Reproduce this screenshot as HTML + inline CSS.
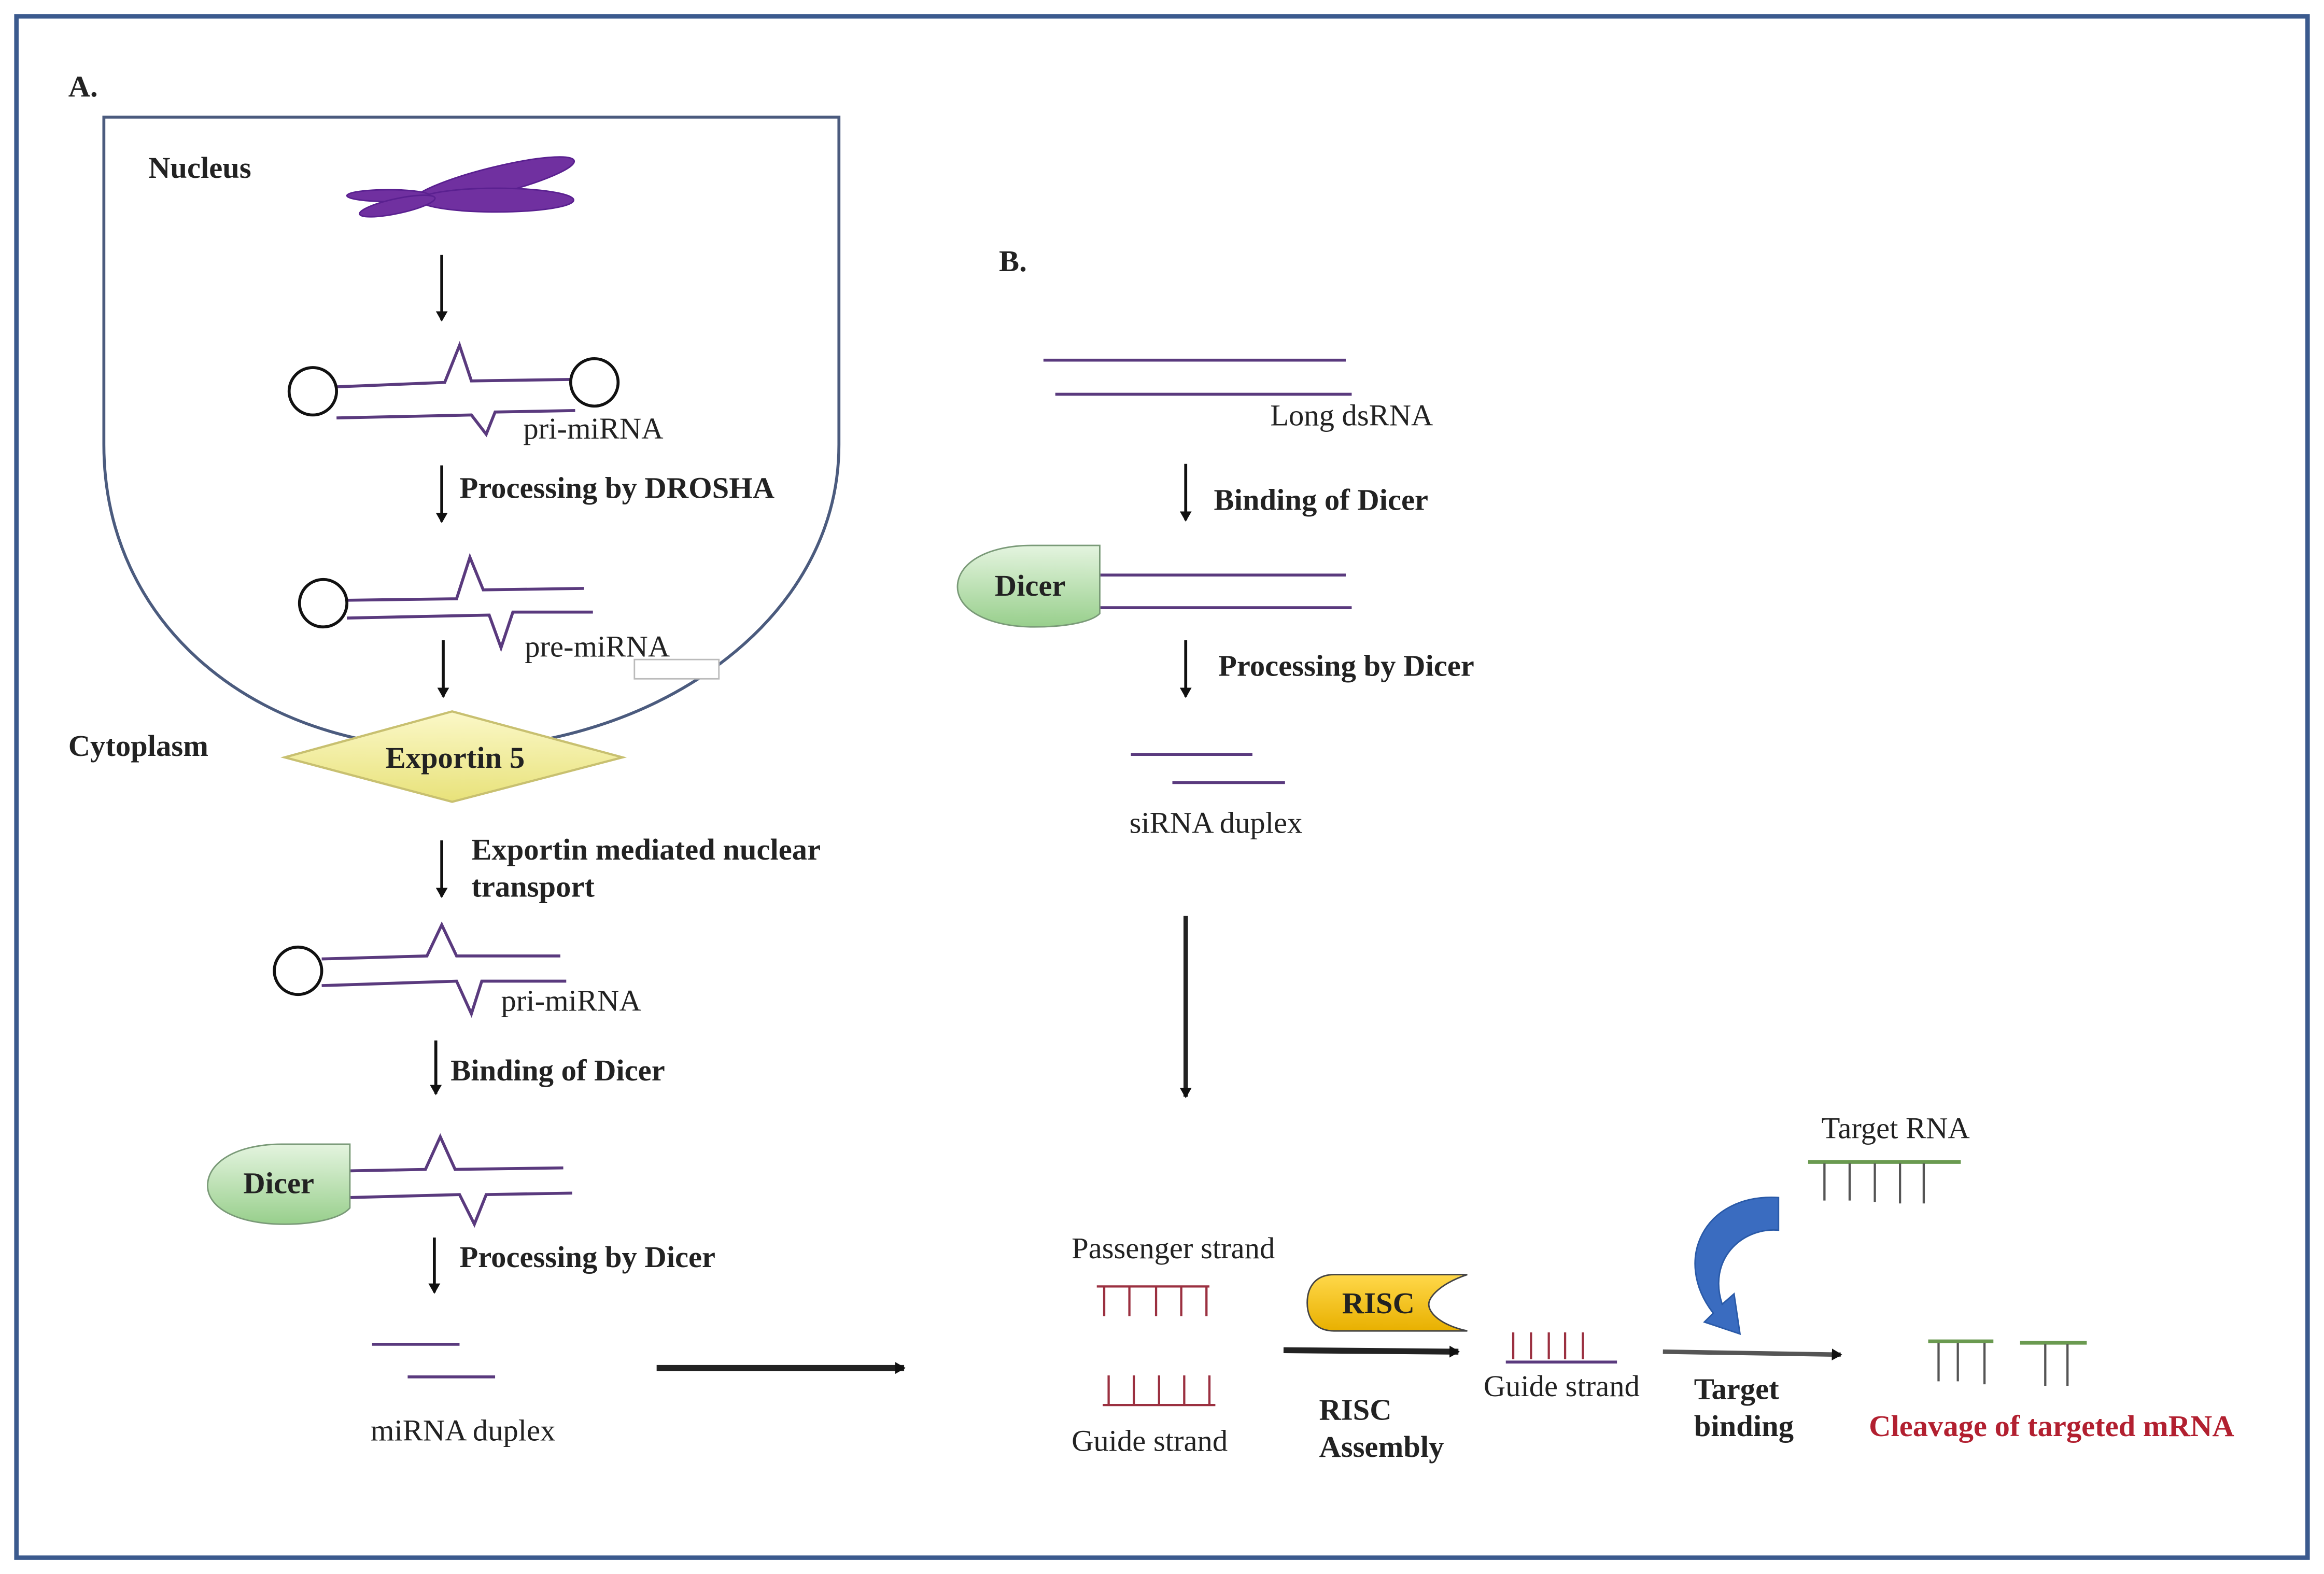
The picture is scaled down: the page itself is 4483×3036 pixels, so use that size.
<!DOCTYPE html>
<html><head><meta charset="utf-8"><style>html,body{margin:0;padding:0;background:#fff}svg{display:block}</style></head>
<body>
<svg xmlns="http://www.w3.org/2000/svg" width="4483" height="3036" viewBox="0 0 1568 1062" font-family="'Liberation Serif', serif" font-size="20.5" fill="#222">
<defs>
<linearGradient id="dg" x1="0" y1="0" x2="0" y2="1"><stop offset="0" stop-color="#e4f4df"/><stop offset="1" stop-color="#98cf8c"/></linearGradient>
<linearGradient id="yg" x1="0" y1="0" x2="0" y2="1"><stop offset="0" stop-color="#fbf8c8"/><stop offset="1" stop-color="#e8e27a"/></linearGradient>
<linearGradient id="rg" x1="0" y1="0" x2="0" y2="1"><stop offset="0" stop-color="#ffd84a"/><stop offset="1" stop-color="#e8b000"/></linearGradient>
<marker id="ah" markerWidth="8" markerHeight="8" refX="6" refY="4" orient="auto" markerUnits="userSpaceOnUse"><path d="M0,0 L7,4 L0,8 Z" fill="#111"/></marker>
</defs>
<rect x="0" y="0" width="1568" height="1062" fill="#fff"/>
<rect x="11" y="11" width="1546" height="1040" fill="none" stroke="#3b5a8e" stroke-width="3"/>
<text x="46" y="65" font-weight="bold">A.</text>
<path d="M70,79 H566 V300 C566,420 440,505 305,505 C170,505 70,420 70,300 Z" fill="none" stroke="#4b5b7e" stroke-width="2"/>
<text x="100" y="120" font-weight="bold">Nucleus</text>
<g fill="#7030a0" stroke="#5a2090" stroke-width="1">
<ellipse cx="333" cy="122" rx="56" ry="9" transform="rotate(-14 333 122)"/>
<ellipse cx="335" cy="135" rx="52" ry="8"/>
<ellipse cx="262" cy="132" rx="28" ry="4"/>
<ellipse cx="268" cy="139" rx="26" ry="5" transform="rotate(-12 268 139)"/>
</g>
<g stroke="#111" stroke-width="2" fill="none" marker-end="url(#ah)">
<line x1="298" y1="172" x2="298" y2="216"/>
<line x1="298" y1="314" x2="298" y2="352"/>
<line x1="299" y1="432" x2="299" y2="470"/>
<line x1="298" y1="567" x2="298" y2="605"/>
<line x1="294" y1="702" x2="294" y2="738"/>
<line x1="293" y1="835" x2="293" y2="872"/>
<line x1="800" y1="313" x2="800" y2="351"/>
<line x1="800" y1="432" x2="800" y2="470"/>
</g>
<g stroke="#5a3a7e" stroke-width="2" fill="none">
<path d="M227,261 L300,258 L310,233 L318,257 L386,256"/>
<path d="M227,282 L318,280 L328,293 L334,278 L388,277"/>
<path d="M234,405 L308,404 L317,376 L326,398 L394,397"/>
<path d="M234,417 L330,415 L338,437 L346,413 L400,413"/>
<path d="M217,647 L288,645 L298,624 L308,645 L378,645"/>
<path d="M217,665 L308,662 L318,684 L325,662 L382,662"/>
<path d="M236,790 L287,789 L297,767 L307,789 L380,788"/>
<path d="M236,808 L310,806 L320,826 L328,806 L386,805"/>
<line x1="251" y1="907" x2="310" y2="907"/>
<line x1="275" y1="929" x2="334" y2="929"/>
<line x1="704" y1="243" x2="908" y2="243"/>
<line x1="712" y1="266" x2="912" y2="266"/>
<line x1="742" y1="388" x2="908" y2="388"/>
<line x1="742" y1="410" x2="912" y2="410"/>
<line x1="763" y1="509" x2="845" y2="509"/>
<line x1="791" y1="528" x2="867" y2="528"/>
<line x1="1016" y1="919" x2="1091" y2="919"/>
</g>
<g fill="#fff" stroke="#111" stroke-width="2">
<circle cx="211" cy="264" r="16"/><circle cx="401" cy="258" r="16"/>
<circle cx="218" cy="407" r="16"/><circle cx="201" cy="655" r="16"/>
</g>
<text x="353" y="296">pri-miRNA</text>
<text x="310" y="336" font-weight="bold">Processing by DROSHA</text>
<text x="354" y="443">pre-miRNA</text>
<rect x="428" y="445" width="57" height="13" fill="#fff" stroke="#bbb" stroke-width="1"/>
<polygon points="192,511 305,480 420,511 305,541" fill="url(#yg)" stroke="#c8c070" stroke-width="1.5"/>
<text x="307" y="518" font-weight="bold" text-anchor="middle">Exportin 5</text>
<text x="46" y="510" font-weight="bold">Cytoplasm</text>
<text x="318" y="580" font-weight="bold">Exportin mediated nuclear</text>
<text x="318" y="605" font-weight="bold">transport</text>
<text x="338" y="682">pri-miRNA</text>
<text x="304" y="729" font-weight="bold">Binding of Dicer</text>
<path d="M236,772 V815 C230,822 212,826 192,826 C160,826 140,815 140,800 C140,784 160,772 190,772 Z" fill="url(#dg)" stroke="#7a9a78" stroke-width="1"/>
<text x="188" y="805" font-weight="bold" text-anchor="middle">Dicer</text>
<text x="310" y="855" font-weight="bold">Processing by Dicer</text>
<text x="250" y="972">miRNA duplex</text>
<line x1="443" y1="923" x2="610" y2="923" stroke="#222" stroke-width="4" marker-end="url(#ah)"/>
<text x="674" y="183" font-weight="bold">B.</text>
<text x="857" y="287">Long dsRNA</text>
<text x="819" y="344" font-weight="bold">Binding of Dicer</text>
<path d="M742,368 V414 C736,420 718,423 698,423 C666,423 646,411 646,396 C646,380 666,368 696,368 Z" fill="url(#dg)" stroke="#7a9a78" stroke-width="1"/>
<text x="695" y="402" font-weight="bold" text-anchor="middle">Dicer</text>
<text x="822" y="456" font-weight="bold">Processing by Dicer</text>
<text x="762" y="562">siRNA duplex</text>
<line x1="800" y1="618" x2="800" y2="740" stroke="#222" stroke-width="3" marker-end="url(#ah)"/>
<text x="723" y="849">Passenger strand</text>
<g stroke="#9b3040" stroke-width="1.5">
<line x1="740" y1="868" x2="816" y2="868"/>
<line x1="745" y1="868" x2="745" y2="888"/><line x1="762" y1="868" x2="762" y2="888"/><line x1="780" y1="868" x2="780" y2="888"/><line x1="797" y1="868" x2="797" y2="888"/><line x1="814" y1="868" x2="814" y2="888"/>
<line x1="744" y1="948" x2="820" y2="948"/>
<line x1="748" y1="948" x2="748" y2="928"/><line x1="765" y1="948" x2="765" y2="928"/><line x1="782" y1="948" x2="782" y2="928"/><line x1="799" y1="948" x2="799" y2="928"/><line x1="816" y1="948" x2="816" y2="928"/>
<line x1="1021" y1="917" x2="1021" y2="899"/><line x1="1033" y1="917" x2="1033" y2="899"/><line x1="1045" y1="917" x2="1045" y2="899"/><line x1="1056" y1="917" x2="1056" y2="899"/><line x1="1068" y1="917" x2="1068" y2="899"/>
</g>
<text x="723" y="979">Guide strand</text>
<path d="M900,860 H990 C972,866 964,875 964,880 C964,886 972,894 990,898 H900 C888,898 882,890 882,879 C882,868 888,860 900,860 Z" fill="url(#rg)" stroke="#444" stroke-width="1"/>
<text x="930" y="886" font-weight="bold" text-anchor="middle">RISC</text>
<line x1="866" y1="911" x2="984" y2="912" stroke="#222" stroke-width="4" marker-end="url(#ah)"/>
<text x="890" y="958" font-weight="bold">RISC</text>
<text x="890" y="983" font-weight="bold">Assembly</text>
<text x="1001" y="942">Guide strand</text>
<line x1="1122" y1="912" x2="1242" y2="914" stroke="#555" stroke-width="3" marker-end="url(#ah)"/>
<text x="1143" y="944" font-weight="bold">Target</text>
<text x="1143" y="969" font-weight="bold">binding</text>
<text x="1229" y="768">Target RNA</text>
<g stroke="#6a9a50" stroke-width="2.5"><line x1="1220" y1="784" x2="1323" y2="784"/><line x1="1301" y1="905" x2="1345" y2="905"/><line x1="1363" y1="906" x2="1408" y2="906"/></g>
<g stroke="#555" stroke-width="1.5">
<line x1="1231" y1="785" x2="1231" y2="810"/><line x1="1248" y1="785" x2="1248" y2="810"/><line x1="1265" y1="785" x2="1265" y2="811"/><line x1="1282" y1="785" x2="1282" y2="812"/><line x1="1298" y1="785" x2="1298" y2="812"/>
<line x1="1308" y1="906" x2="1308" y2="932"/><line x1="1321" y1="906" x2="1321" y2="932"/><line x1="1339" y1="906" x2="1339" y2="934"/>
<line x1="1380" y1="907" x2="1380" y2="935"/><line x1="1395" y1="907" x2="1395" y2="935"/>
</g>
<path d="M1200,808 L1200,830 C1175,828 1152,850 1162,880 L1170,873 L1174,900 L1150,892 L1156,886 C1128,850 1150,805 1200,808 Z" fill="#3a6cc0" stroke="#2a5aa8" stroke-width="1"/>
<text x="1261" y="969" font-weight="bold" fill="#b22030">Cleavage of targeted mRNA</text>
</svg>
</body></html>
